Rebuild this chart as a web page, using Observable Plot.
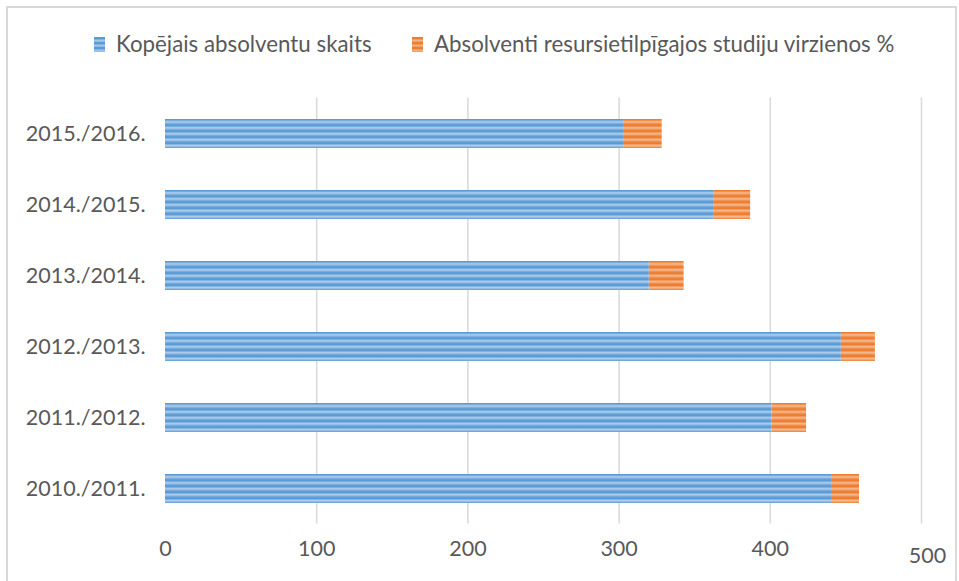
<!DOCTYPE html>
<html>
<head>
<meta charset="utf-8">
<script src="https://cdn.jsdelivr.net/npm/d3@7"></script>
<script src="https://cdn.jsdelivr.net/npm/@observablehq/plot@0.6"></script>
<style>
  body { margin: 0; background: #fff; }
  #wrap { position: relative; width: 959px; height: 581px; overflow: hidden;
          font-family: Lato, "Noto Sans", sans-serif; color: #595959; background: #fff; }
  #frame { position: absolute; left: 6px; top: 6px; width: 951px; height: 640px;
           border: 2px solid #D9D9D9; box-sizing: border-box; pointer-events: none; }
  #legend { position: relative; height: 70px; }
  .sw { position: absolute; top: 37px; width: 11px; height: 15px; }
  .lt { position: absolute; top: 33px; font-size: 22.3px; line-height: 22px; white-space: nowrap; }
  #chart { position: relative; }
  #chart svg { display: block; }
</style>
</head>
<body>
<div id="wrap">
  <div id="legend"></div>
  <div id="chart"></div>
  <div id="frame"></div>
</div>
<script>
// ---- data ----
const years = ["2015./2016.", "2014./2015.", "2013./2014.", "2012./2013.", "2011./2012.", "2010./2011."];
const totalGraduates = [303.5, 363, 320, 447, 401, 440.5];
const resourceIntensivePct = [25, 24, 23, 22.5, 23, 18.5];
const seriesNames = ["Kopējais absolventu skaits", "Absolventi resursietilpīgajos studiju virzienos %"];
const xTicks = [0, 100, 200, 300, 400, 500];

const rows = [];
years.forEach((y, i) => {
  rows.push({year: y, series: seriesNames[0], value: totalGraduates[i]});
  rows.push({year: y, series: seriesNames[1], value: resourceIntensivePct[i]});
});

// ---- legend ----
const legend = document.getElementById("legend");
const swatchBg = [
  "repeating-linear-gradient(180deg,#5B9BD5 0px,#5B9BD5 2px,#A9CBEA 3px,#8AB7E2 5px)",
  "repeating-linear-gradient(180deg,#ED7D31 0px,#ED7D31 2px,#F5B88C 3px,#F19A5C 5px)"
];
const swX = [94, 412], txX = [116, 434];
seriesNames.forEach((name, i) => {
  const s = document.createElement("span");
  s.className = "sw"; s.style.left = swX[i] + "px"; s.style.background = swatchBg[i];
  legend.appendChild(s);
  const t = document.createElement("span");
  t.className = "lt"; t.style.left = txX[i] + "px"; t.textContent = name;
  legend.appendChild(t);
});

// ---- chart ----
const svgH = 511, mTop = 27.5, mBottom = 57.5;
const band = (svgH - mTop - mBottom) / years.length;
const barH = 29, inset = (band - barH) / 2;

const chart = Plot.plot({
  width: 959,
  height: svgH,
  marginTop: mTop,
  marginBottom: mBottom,
  marginLeft: 165,
  marginRight: 38,
  style: {fontFamily: "Lato, 'Noto Sans', sans-serif", fontSize: "21.5px", color: "#595959", background: "transparent"},
  x: {domain: [0, 500], axis: null},
  y: {domain: years, axis: null, padding: 0},
  color: {domain: seriesNames, range: ["url(#stripeBlue)", "url(#stripeOrange)"]},
  marks: [
    Plot.ruleX(xTicks.filter(d => d > 0), {x: d => d, stroke: "#D9D9D9", strokeWidth: 1.5}),
    Plot.barX(rows, {y: "year", x: "value", fill: "series", order: seriesNames,
                     insetTop: inset, insetBottom: inset}),
    Plot.text(years, {y: d => d, text: d => d, frameAnchor: "left", textAnchor: "end", dx: -20,
                      fill: "#595959"}),
    Plot.text(xTicks.filter(d => d < 500), {x: d => d, text: d => String(d), frameAnchor: "bottom",
                      lineAnchor: "top", dy: 17, fill: "#595959"}),
    Plot.text(xTicks.filter(d => d === 500), {x: d => d, text: d => String(d), frameAnchor: "bottom",
                      lineAnchor: "top", dy: 23.5, dx: 6, fill: "#595959"})
  ]
});

// striped fills
const period = band / 12;
const defs = d3.select(chart).insert("defs", ":first-child");
function stripes(id, dark, light, mid) {
  const gid = id + "Grad";
  const g = defs.append("linearGradient").attr("id", gid)
    .attr("x1", 0).attr("y1", 0).attr("x2", 0).attr("y2", 1);
  [[0, dark], [0.25, dark], [0.55, light], [0.8, mid], [1, dark]].forEach(([o, c]) =>
    g.append("stop").attr("offset", o).attr("stop-color", c));
  const p = defs.append("pattern").attr("id", id).attr("patternUnits", "userSpaceOnUse")
    .attr("x", 0).attr("y", mTop + inset).attr("width", 20).attr("height", period);
  p.append("rect").attr("width", 20).attr("height", period).attr("fill", `url(#${gid})`);
}
stripes("stripeBlue", "#5B9BD5", "#B7D3EE", "#86B4E1");
stripes("stripeOrange", "#ED7D31", "#F6C09A", "#F19C60");

document.getElementById("chart").appendChild(chart);
</script>
</body>
</html>
